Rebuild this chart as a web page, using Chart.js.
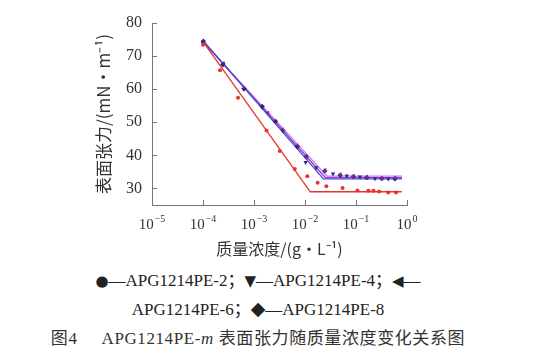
<!DOCTYPE html>
<html><head><meta charset="utf-8">
<script src="https://cdn.jsdelivr.net/npm/chart.js@4/dist/chart.umd.min.js"></script>
<style>
html,body{margin:0;padding:0;background:#fff;width:544px;height:354px;overflow:hidden;}
#wrap{position:absolute;left:0;top:0;width:544px;height:260px;}
.t{position:absolute;left:0;width:516px;text-align:center;font-family:"Liberation Serif","Noto Sans CJK SC",serif;color:#222;white-space:nowrap;}
.s{font-family:"DejaVu Sans",sans-serif;font-size:15px;}
.d{font-family:"DejaVu Sans",sans-serif;font-size:19px;line-height:17px;}
</style></head><body>
<div id="wrap"><canvas id="c" width="544" height="260"></canvas></div>
<div class="t" style="top:266px;font-size:17px;"><span class="s">●</span>—APG1214PE-2；<span class="s">▼</span>—APG1214PE-4；<span class="s">◀</span>—</div>
<div class="t" style="top:295px;font-size:17px;">APG1214PE-6；<span class="d">◆</span>—APG1214PE-8</div>
<div class="t" style="top:324px;font-size:17px;letter-spacing:0.6px;color:#333;">图4<span style="display:inline-block;width:24px"></span>APG1214PE-<i>m</i> 表面张力随质量浓度变化关系图</div>
<script>
// ---- data ----
const seriesNames = ['APG1214PE-2','APG1214PE-4','APG1214PE-6','APG1214PE-8'];
// APG1214PE-2 measured points
const pe2Conc = [1.0e-4,2.16e-4,4.85e-4,1.76e-3,3.2e-3,6.3e-3,0.0111,0.0177,0.0262,0.0545,0.107,0.175,0.22,0.284,0.43,0.61];
const pe2Tens = [73.4,65.7,57.4,47.5,41.3,35.9,33.7,31.7,30.7,30.1,29.4,29.3,29.3,29.1,28.8,28.8];
// APG1214PE-4
const pe4Conc = [1.0e-4,2.5e-4,6.3e-4,1.45e-3,3.7e-3,7.0e-3,0.0103,0.0166,0.0355,0.066,0.12,0.235,0.43];
const pe4Tens = [74.3,67.5,60.0,54.5,47.4,42.6,37.9,36.3,34.4,33.8,33.5,33.0,32.9];
// APG1214PE-6
const pe6Conc = [1.0e-4,2.5e-4,6.3e-4,1.87e-3,3.6e-3,7.0e-3,0.0107,0.0247,0.049,0.089,0.163,0.32,0.58];
const pe6Tens = [74.0,67.8,60.3,52.8,47.8,43.0,39.4,35.5,34.2,33.7,33.5,33.0,33.2];
// APG1214PE-8
const pe8Conc = [1.02e-4,2.45e-4,6.4e-4,1.45e-3,2.64e-3,7.1e-3,0.0106,0.0245,0.049,0.089,0.163,0.32,0.58];
const pe8Tens = [74.5,67.4,60.1,54.8,50.3,42.6,39.6,35.3,34.0,33.6,33.3,33.0,32.9];
// fitted two-segment lines
const fit2Conc = [1.0e-4,0.0127,0.79], fit2Tens = [74.4,29.0,29.0];
const fit4Conc = [1.0e-4,0.023,0.80],  fit4Tens = [74.7,32.9,32.9];
const fit6Conc = [1.0e-4,0.025,0.80],  fit6Tens = [74.4,33.3,33.3];
const fit8Conc = [1.05e-4,0.027,0.80], fit8Tens = [74.0,33.7,33.7];
// axis ticks
const xTickValues = [1e-5,1e-4,1e-3,1e-2,1e-1,1];
const xTickBase = ['10','10','10','10','10','10'];
const xTickExp = ['−5','−4','−3','−2','−1','0'];
const yTickValues = [30,40,50,60,70,80];

const pts = (xs, ys) => xs.map((x, i) => ({x, y: ys[i]}));

function lineDs(xs, ys, color){
  return {type:'line', data:pts(xs,ys), borderColor:color, borderWidth:1.3, pointRadius:0, showLine:true, fill:false, tension:0, order:2};
}
function ptDs(label, xs, ys, color, style, r, rot){
  return {type:'scatter', label, data:pts(xs,ys), backgroundColor:color, borderColor:color, borderWidth:0,
          pointStyle:style, pointRadius:r, rotation:rot||0, showLine:false, order:1};
}

const serif = '"Liberation Serif", "DejaVu Serif", serif';
const inwardTicks = {
  id:'inwardTicks',
  afterDraw(chart){
    const ctx = chart.ctx, xs = chart.scales.x, ys = chart.scales.y;
    ctx.save();
    ctx.strokeStyle = '#777'; ctx.lineWidth = 1;
    ctx.beginPath();
    xs.ticks.forEach(t => { const px = Math.round(xs.getPixelForValue(t.value))+0.5; ctx.moveTo(px, ys.bottom); ctx.lineTo(px, ys.bottom-5); });
    ys.ticks.forEach(t => { const py = Math.round(ys.getPixelForValue(t.value))+0.5; ctx.moveTo(xs.left, py); ctx.lineTo(xs.left+5, py); });
    ctx.stroke();
    // x tick labels: base with superscript exponent
    ctx.fillStyle = '#333'; ctx.textBaseline = 'alphabetic';
    xs.ticks.forEach((t, i) => {
      const px = xs.getPixelForValue(t.value);
      ctx.font = '15px ' + serif;
      const wb = ctx.measureText(xTickBase[i]).width;
      ctx.font = '10px ' + serif;
      const we = ctx.measureText(xTickExp[i]).width;
      const x0 = px - (wb + we + 1) / 2;
      ctx.font = '15px ' + serif;
      ctx.textAlign = 'left';
      ctx.fillText(xTickBase[i], x0, ys.bottom + 24);
      ctx.font = '10px ' + serif;
      ctx.fillText(xTickExp[i], x0 + wb + 1, ys.bottom + 17);
    });
    ctx.restore();
  }
};

new Chart(document.getElementById('c'), {
  data:{datasets:[
    lineDs(fit2Conc, fit2Tens, '#e8342c'),
    lineDs(fit4Conc, fit4Tens, '#4a4ad8'),
    lineDs(fit6Conc, fit6Tens, '#9440d0'),
    lineDs(fit8Conc, fit8Tens, '#cc78e8'),
    ptDs(seriesNames[0], pe2Conc, pe2Tens, '#e8342c', 'circle', 2),
    ptDs(seriesNames[1], pe4Conc, pe4Tens, '#2c2c86', 'triangle', 2.6, 180),
    ptDs(seriesNames[2], pe6Conc, pe6Tens, '#7a2ca0', 'triangle', 2.6, 270),
    ptDs(seriesNames[3], pe8Conc, pe8Tens, '#3a2458', 'rectRot', 2.6)
  ]},
  options:{
    responsive:false, animation:false,
    layout:{padding:{left:95, right:137, top:23, bottom:0}},
    plugins:{legend:{display:false}, tooltip:{enabled:false}},
    scales:{
      x:{type:'logarithmic', min:1e-5, max:1,
        afterBuildTicks:s=>{ s.ticks = xTickValues.map(v=>({value:v})); },
        afterFit:s=>{ s.height = 55; },
        grid:{display:true, drawOnChartArea:false, drawTicks:false},
        border:{display:true, color:'#777', width:1},
        ticks:{display:false, autoSkip:false, maxRotation:0,
          callback:(v,i)=>xTickBase[i]+'^'+xTickExp[i]},
        title:{display:true, text:'质量浓度/(g·L⁻¹)', color:'#333', padding:{top:0,bottom:3},
          font:{family:'"Noto Sans CJK SC", "Liberation Serif", serif', size:16, lineHeight:1}}
      },
      y:{type:'linear', min:25, max:80,
        afterBuildTicks:s=>{ s.ticks = yTickValues.map(v=>({value:v})); },
        afterFit:s=>{ s.width = 57; },
        grid:{display:true, drawOnChartArea:false, drawTicks:false},
        border:{display:true, color:'#777', width:1},
        ticks:{padding:10, color:'#333',
          font:{family:serif, size:16}},
        title:{display:true, text:'表面张力/(mN·m⁻¹)', color:'#333', padding:{top:0,bottom:0},
          font:{family:'"Noto Sans CJK SC", "Liberation Serif", serif', size:17, lineHeight:1}}
      }
    }
  },
  plugins:[inwardTicks]
});
</script>
</body></html>
